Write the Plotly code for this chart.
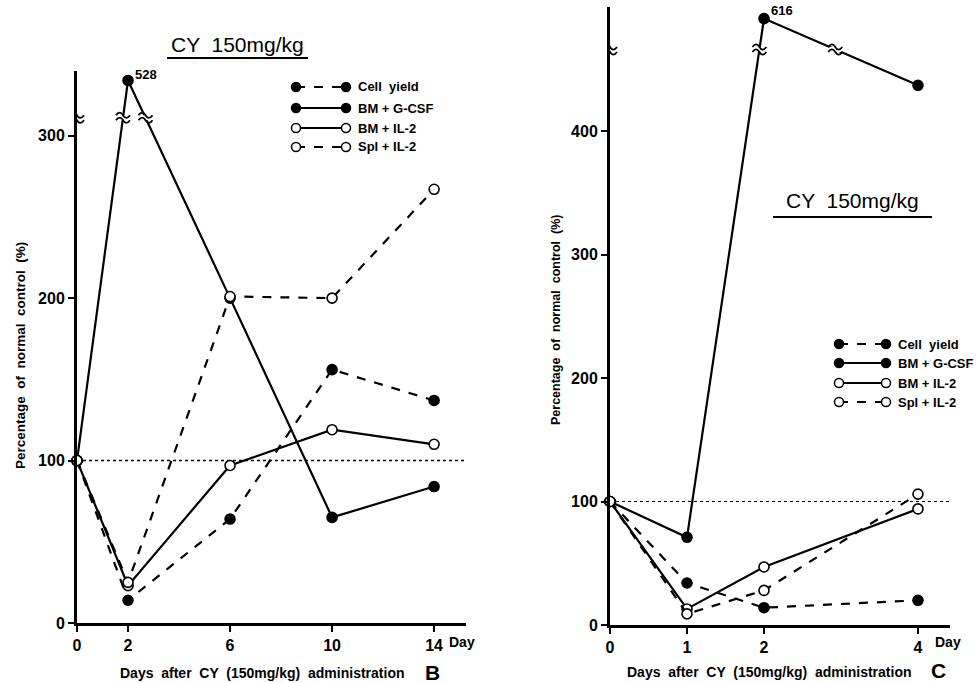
import plotly.graph_objects as go

W, H = 979, 683

# ---------------- data ----------------
days_B = [0, 2, 6, 10, 14]
cell_yield_B = [100, 14, 64, 156, 137]
bm_gcsf_B = [100, 528, 200, 65, 84]
bm_il2_B = [100, 23, 97, 119, 110]
spl_il2_B = [100, 25, 201, 200, 267]

days_C = [0, 1, 2, 4]
cell_yield_C = [100, 34, 14, 20]
bm_gcsf_C = [100, 71, 616, 437]
bm_il2_C = [100, 13, 47, 94]
spl_il2_C = [100, 9, 28, 106]

series_names = ["Cell  yield", "BM + G-CSF", "BM + IL-2", "Spl + IL-2"]
yticks_B = [0, 100, 200, 300]
yticks_C = [0, 100, 200, 300, 400]

# broken-axis settings (display value where break sits, and amount skipped)
BREAK_B, GAP_B = 311, 194
BREAK_C, GAP_C = 466, 125

FONT = "Liberation Sans Narrow, Arial Narrow, Liberation Sans, sans-serif"
FONT_W = "Liberation Sans, Arial, sans-serif"


def to_display(vals, brk, gap):
    return [v if v <= brk else v - gap for v in vals]


def px(xp):
    return xp / W


def py(yp):
    return 1 - yp / H


styles = [  # (filled, dashed)
    (True, True),
    (True, False),
    (False, False),
    (False, True),
]

fig = go.Figure()


def add_series(days, vals, idx, brk, gap, xa, ya):
    filled, dashed = styles[idx]
    fig.add_trace(go.Scatter(
        x=days, y=to_display(vals, brk, gap), mode="lines+markers",
        xaxis=xa, yaxis=ya, showlegend=False, name=series_names[idx],
        line=dict(color="black", width=2.2, dash="dash" if dashed else "solid"),
        marker=dict(size=10, color="black" if filled else "white",
                    line=dict(color="black", width=1.6)),
        cliponaxis=False,
    ))


for i, vals in enumerate([cell_yield_B, bm_gcsf_B, bm_il2_B, spl_il2_B]):
    add_series(days_B, vals, i, BREAK_B, GAP_B, "x", "y")
for i, vals in enumerate([cell_yield_C, bm_gcsf_C, bm_il2_C, spl_il2_C]):
    add_series(days_C, vals, i, BREAK_C, GAP_C, "x2", "y2")

shapes = []
annotations = []


def text(x_, y_, t, size, bold=True, family=FONT_W, xanchor="center", angle=0):
    annotations.append(dict(x=px(x_), y=py(y_), xref="paper", yref="paper",
                            text=t, showarrow=False, xanchor=xanchor,
                            yanchor="middle", textangle=angle,
                            font=dict(family=family, size=size, color="black",
                                      weight="bold" if bold else "normal")))


def break_mark(xval, yval, xref, yref):
    # white gap plus two tildes, sized in pixels around an anchor
    common = dict(xref=xref, yref=yref, xsizemode="pixel", ysizemode="pixel",
                  xanchor=xval, yanchor=yval, layer="above")
    shapes.append(dict(type="rect", x0=-6, x1=6, y0=-2.5, y1=2.5,
                       fillcolor="white", line=dict(width=0), **common))
    for dy in (-2.5, 2.5):
        path = (f"M-7,{dy} C-4.5,{dy + 3.5} -2,{dy + 3.5} 0,{dy} "
                f"C2,{dy - 3.5} 4.5,{dy - 3.5} 7,{dy}")
        shapes.append(dict(type="path", path=path,
                           line=dict(color="black", width=1.8), **common))


def line_breaks(days, vals, brk, gap, xref, yref):
    d = to_display(vals, brk, gap)
    for k in range(len(d) - 1):
        a, b = d[k], d[k + 1]
        if (a - brk) * (b - brk) < 0:
            t = (brk - a) / (b - a)
            xc = days[k] + t * (days[k + 1] - days[k])
            break_mark(xc, brk, xref, yref)


break_mark(0, BREAK_B, "x", "y")
break_mark(0, BREAK_C, "x2", "y2")
line_breaks(days_B, bm_gcsf_B, BREAK_B, GAP_B, "x", "y")
line_breaks(days_C, bm_gcsf_C, BREAK_C, GAP_C, "x2", "y2")

# peak labels
annotations.append(dict(x=days_B[1], y=to_display(bm_gcsf_B, BREAK_B, GAP_B)[1],
                        xref="x", yref="y", text=str(bm_gcsf_B[1]), showarrow=False,
                        xanchor="left", yanchor="middle", xshift=5, yshift=6,
                        font=dict(family=FONT, size=13, color="black", weight="bold")))
annotations.append(dict(x=days_C[2], y=to_display(bm_gcsf_C, BREAK_C, GAP_C)[2],
                        xref="x2", yref="y2", text=str(bm_gcsf_C[2]), showarrow=False,
                        xanchor="left", yanchor="middle", xshift=5, yshift=8,
                        font=dict(family=FONT, size=13, color="black", weight="bold")))

# reference lines at 100
shapes.append(dict(type="line", xref="x domain", yref="y", x0=0, x1=1, y0=100, y1=100,
                   line=dict(color="black", width=1.5, dash="dot"), layer="below"))
shapes.append(dict(type="line", xref="x2 domain", yref="y2", x0=0, x1=1, y0=100, y1=100,
                   line=dict(color="black", width=1.2, dash="dot"), layer="below"))


# legends
def legend(xl, xr, tx, rows):
    for i, yr in enumerate(rows):
        filled, dashed = styles[i]
        shapes.append(dict(type="line", xref="paper", yref="paper",
                           x0=px(xl), x1=px(xr), y0=py(yr), y1=py(yr),
                           line=dict(color="black", width=2,
                                     dash="dash" if dashed else "solid")))
        for xc in (xl, xr):
            shapes.append(dict(type="circle", xref="paper", yref="paper",
                               xsizemode="pixel", ysizemode="pixel",
                               xanchor=px(xc), yanchor=py(yr),
                               x0=-4.5, x1=4.5, y0=-4.5, y1=4.5,
                               fillcolor="black" if filled else "white",
                               line=dict(color="black", width=1.5)))
        text(tx, yr, series_names[i], 13, xanchor="left")


legend(296, 346, 356, [87, 108, 128, 147])
legend(839, 886, 896, [344, 363, 383, 402])

# titles with underline
for cx, cy, x0, x1, uy in [(237, 44, 167, 308, 58), (852, 200, 773, 932, 217)]:
    text(cx, cy, "CY  150mg/kg", 21, bold=False)
    shapes.append(dict(type="line", xref="paper", yref="paper",
                       x0=px(x0), x1=px(x1), y0=py(uy), y1=py(uy),
                       line=dict(color="black", width=2)))

# axis titles and panel letters
ytitle = "Percentage  of  normal  control  (%)"
xtitle = "Days  after  CY  (150mg/kg)  administration"
text(20, 356, ytitle, 13.5, angle=-90)
text(556, 320, ytitle, 12.5, angle=-90)
text(262, 673, xtitle, 14)
text(769, 672, xtitle, 14)
text(432, 672, "B", 21)
text(938, 670, "C", 21)
text(462, 642, "Day", 14)
text(948, 642, "Day", 14)

axis_common = dict(showline=True, linecolor="black", linewidth=3, showgrid=False,
                   zeroline=False, ticks="outside", ticklen=6, tickwidth=2,
                   tickcolor="black", automargin=False,
                   tickfont=dict(family=FONT, size=16, color="black", weight="bold"))

fig.update_layout(
    width=W, height=H, margin=dict(l=0, r=0, t=0, b=0, pad=0, autoexpand=False),
    paper_bgcolor="white", plot_bgcolor="white", showlegend=False,
    xaxis=dict(domain=[px(77), px(466)], range=[0, 15.25], tickvals=days_B,
               anchor="y", **axis_common),
    yaxis=dict(domain=[1 - 623 / H, 1 - 70.7 / H], range=[0, 340], tickvals=yticks_B,
               anchor="x", **axis_common),
    xaxis2=dict(domain=[px(610), px(950)], range=[0, 4.416], tickvals=days_C,
                anchor="y2", **axis_common),
    yaxis2=dict(domain=[1 - 625 / H, 1 - 7 / H], range=[0, 500.4], tickvals=yticks_C,
                anchor="x2", **axis_common),
    shapes=shapes, annotations=annotations,
)

fig.write_html("out.html", config={"displayModeBar": False},
               post_script="document.body.style.margin='0';"
                           "document.body.style.overflow='hidden';")
